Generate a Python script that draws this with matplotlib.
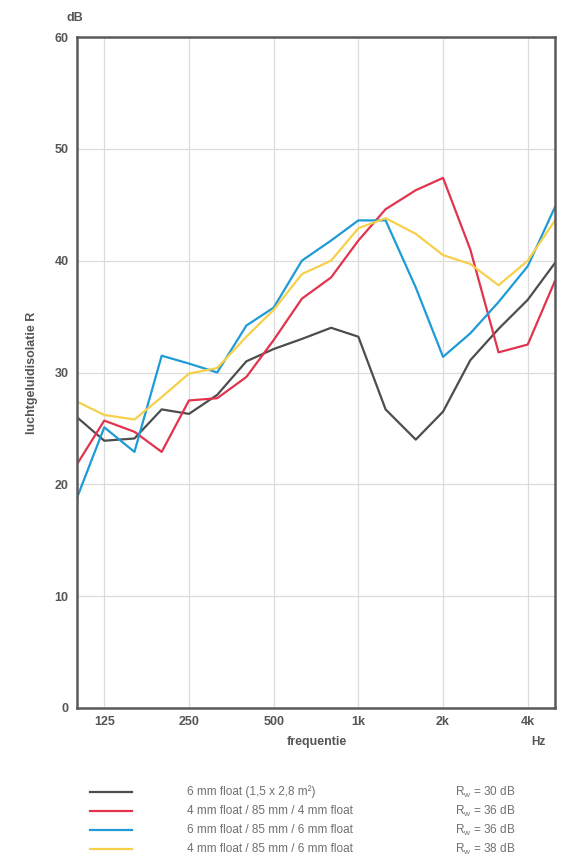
import matplotlib
matplotlib.use("Agg")
import matplotlib.pyplot as plt

plt.rcParams['font.family'] = ['Liberation Sans', 'DejaVu Sans']
plt.rcParams['mathtext.fontset'] = 'custom'
plt.rcParams['mathtext.rm'] = 'Liberation Sans'
plt.rcParams['mathtext.it'] = 'Liberation Sans'

# 1/3 octave band centre frequencies (Hz)
freqs = [100, 125, 160, 200, 250, 315, 400, 500, 630, 800,
         1000, 1250, 1600, 2000, 2500, 3150, 4000, 5000]

# sound insulation R (dB) per construction
r_single6 = [26.0, 23.9, 24.1, 26.7, 26.3, 28.0, 31.0, 32.1, 33.0, 34.0,
             33.2, 26.7, 24.0, 26.5, 31.1, 33.9, 36.5, 39.8]
r_4_85_4 = [21.8, 25.7, 24.7, 22.9, 27.5, 27.7, 29.6, 32.9, 36.6, 38.5,
            41.8, 44.6, 46.3, 47.4, 41.0, 31.8, 32.5, 38.2]
r_6_85_6 = [18.8, 25.1, 22.9, 31.5, 30.8, 30.0, 34.2, 35.8, 40.0, 41.8,
            43.6, 43.6, 37.6, 31.4, 33.5, 36.3, 39.5, 44.8]
r_4_85_6 = [27.4, 26.2, 25.8, 27.8, 29.9, 30.4, 33.2, 35.6, 38.8, 40.0,
            42.9, 43.8, 42.4, 40.5, 39.7, 37.8, 40.0, 43.6]

labels = ["6 mm float (1,5 x 2,8 m²)",
          "4 mm float / 85 mm / 4 mm float",
          "6 mm float / 85 mm / 6 mm float",
          "4 mm float / 85 mm / 6 mm float"]
rw = ["30", "36", "36", "38"]
colors = ["#4d4d4d", "#e2334f", "#1e9bd7", "#f6d04a"]

xticks = [125, 250, 500, 1000, 2000, 4000]
xticklabels = ["125", "250", "500", "1k", "2k", "4k"]

fig = plt.figure(figsize=(5.63, 8.58), dpi=100)
ax = fig.add_axes([77 / 563, 1 - 708 / 858, 478 / 563, 671 / 858])

for ys, c in zip([r_single6, r_4_85_4, r_6_85_6, r_4_85_6], colors):
    ax.plot(freqs, ys, color=c, lw=1.6)

ax.set_xscale('log')
ax.set_xlim(100, 5000)
ax.set_ylim(0, 60)
ax.set_xticks(xticks)
ax.set_xticklabels(xticklabels)
ax.minorticks_off()
ax.set_yticks(range(0, 61, 10))
ax.grid(True, color="#dcdcdc", lw=0.9)
ax.tick_params(length=0, colors="#555555", labelsize=9, pad=6)
for t in ax.get_xticklabels() + ax.get_yticklabels():
    t.set_fontweight('bold')
for s in ax.spines.values():
    s.set_color("#5a5a5a")
    s.set_linewidth(1.8)

ax.set_ylabel("luchtgeluidisolatie R", color="#555555", fontsize=9,
              fontweight='bold', labelpad=12)
fig.text(75 / 563, 1 - 18 / 858, "dB", color="#555555", fontsize=9,
         fontweight='bold', ha='center', va='center')
fig.text(317 / 563, 1 - 742 / 858, "frequentie", color="#555555", fontsize=9,
         fontweight='bold', ha='center', va='center')
fig.text(538 / 563, 1 - 742 / 858, "Hz", color="#555555", fontsize=8.5,
         fontweight='bold', ha='center', va='center')

# legend block
y0 = 792
for i, (lab, c, r) in enumerate(zip(labels, colors, rw)):
    yy = 1 - (y0 + i * 19) / 858
    fig.add_artist(plt.Line2D([90 / 563, 132 / 563], [yy, yy], color=c, lw=1.6))
    fig.text(187 / 563, yy, lab, color="#707070", fontsize=8.5, va='center')
    fig.text(455 / 563, yy, "R$_\\mathrm{w}$ = " + r + " dB", color="#707070",
             fontsize=8.5, va='center')

fig.savefig("out.png", dpi=100)
